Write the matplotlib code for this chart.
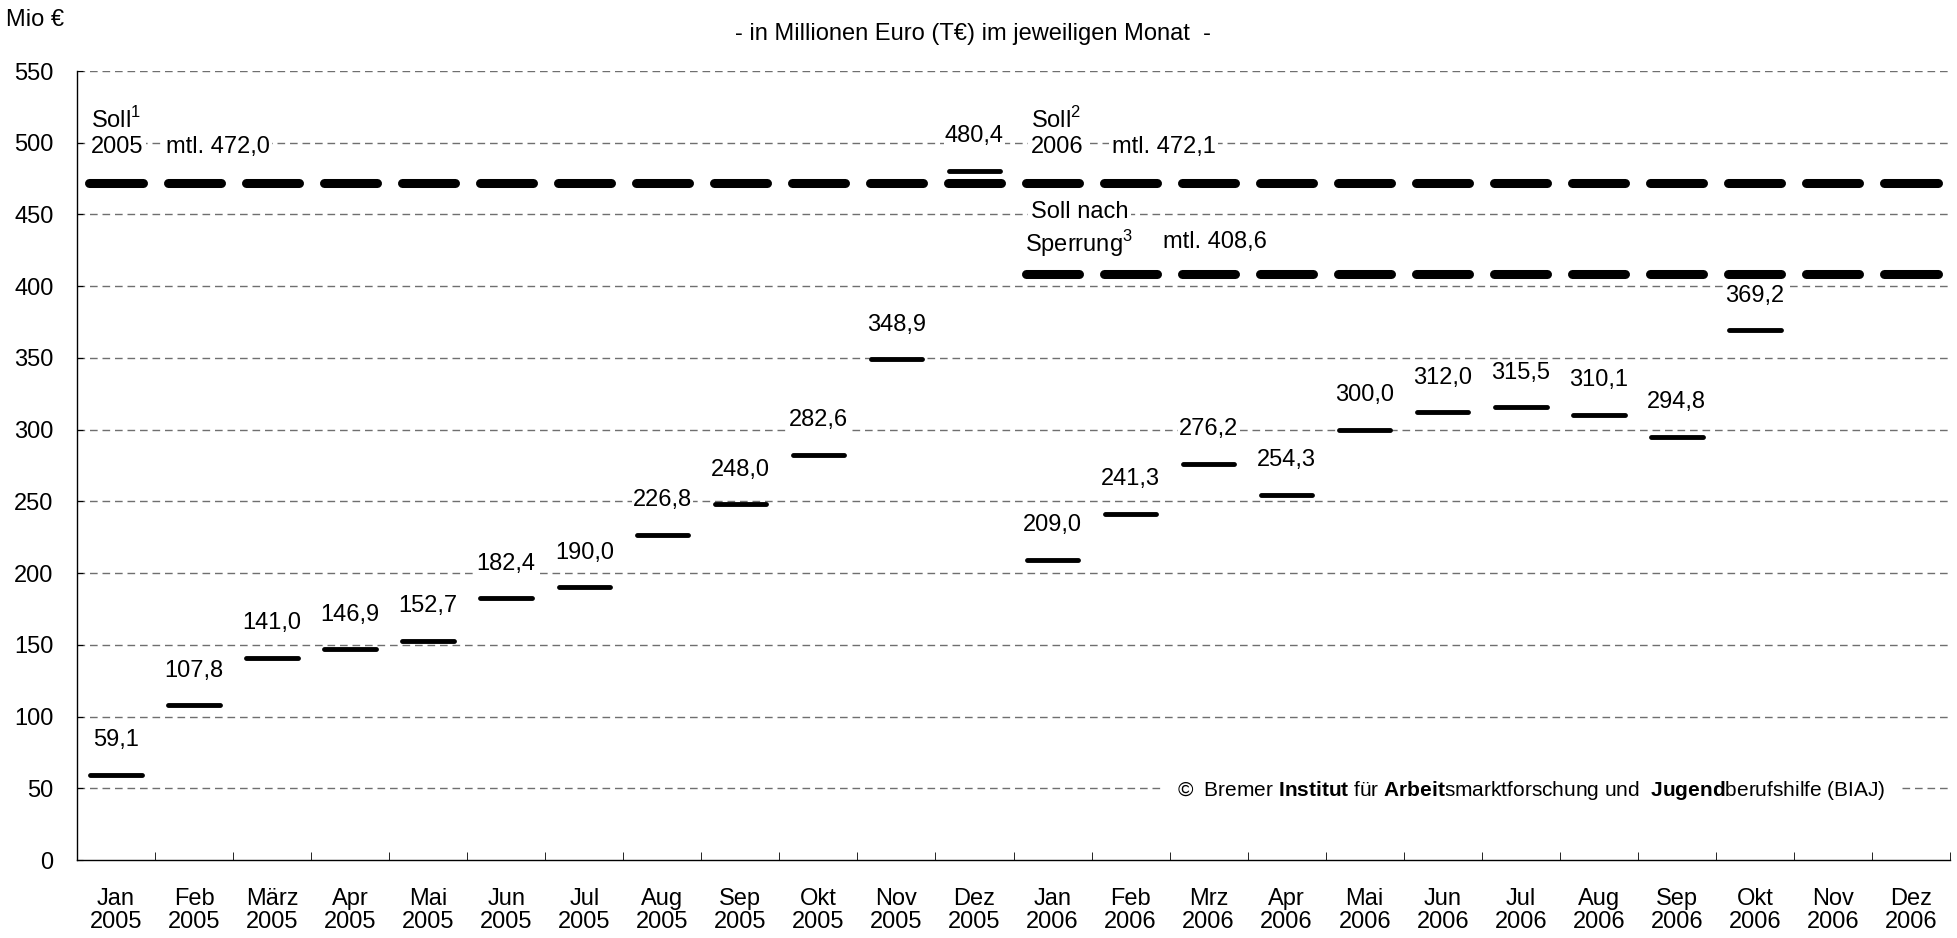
import numpy as np
import matplotlib
matplotlib.use("Agg")
import matplotlib.pyplot as plt

plt.rcParams['font.family'] = ['Liberation Sans', 'DejaVu Sans']
plt.rcParams['mathtext.fontset'] = 'custom'
plt.rcParams['mathtext.rm'] = 'Liberation Sans'
plt.rcParams['mathtext.bf'] = 'Liberation Sans:bold'

# data
months = ["Jan", "Feb", "März", "Apr", "Mai", "Jun", "Jul", "Aug", "Sep", "Okt", "Nov", "Dez",
          "Jan", "Feb", "Mrz", "Apr", "Mai", "Jun", "Jul", "Aug", "Sep", "Okt", "Nov", "Dez"]
years = ["2005"] * 12 + ["2006"] * 12
ist = [59.1, 107.8, 141.0, 146.9, 152.7, 182.4, 190.0, 226.8, 248.0, 282.6, 348.9, 480.4,
       209.0, 241.3, 276.2, 254.3, 300.0, 312.0, 315.5, 310.1, 294.8, 369.2, None, None]
soll_2005 = 472.0
soll_2006 = 472.1
soll_sperrung = 408.6

fs = 17

fig = plt.figure(figsize=(19.57, 9.38), dpi=100)
ax = fig.add_axes([77 / 1957, 78 / 938, 1873 / 1957, 789 / 938])

n = len(months)
x = np.arange(n)
ax.set_xlim(-0.5, n - 0.5)
ax.set_ylim(0, 550)

# grid
for yv in range(50, 551, 50):
    ax.axhline(yv, color="#6f6f6f", lw=1.0, dashes=(5.5, 3.5), zorder=1)

# Soll dashes
soll_sets = [(x[:12], soll_2005), (x[12:], soll_2006), (x[12:], soll_sperrung)]
for xs, val in soll_sets:
    lc = ax.hlines([val] * len(xs), xs - 0.34, xs + 0.34, color="black", lw=6.5, zorder=3)
    lc.set_capstyle("round")

# Ist markers + labels
xi = [i for i in range(n) if ist[i] is not None]
vi = [ist[i] for i in xi]
lc = ax.hlines(vi, np.array(xi) - 0.33, np.array(xi) + 0.33, color="black", lw=3.5, zorder=4)
lc.set_capstyle("round")
for i, v in zip(xi, vi):
    ax.annotate(f"{v:.1f}".replace(".", ","), (i, v), xytext=(0, 25), textcoords="offset points",
                ha="center", va="center", fontsize=fs, zorder=5,
                bbox=dict(boxstyle="square,pad=0.05", fc="white", ec="none"))

box = dict(boxstyle="square,pad=0.1", fc="white", ec="none")
ax.text(-0.32, 516, r"Soll$^1$", fontsize=fs, ha="left", va="center", zorder=5)
ax.text(-0.32, 497, "2005", fontsize=fs, ha="left", va="center", bbox=box, zorder=5)
ax.text(0.64, 497, "mtl. 472,0", fontsize=fs, ha="left", va="center", bbox=box, zorder=5)
ax.text(11.72, 516, r"Soll$^2$", fontsize=fs, ha="left", va="center", zorder=5)
ax.text(11.72, 497, "2006", fontsize=fs, ha="left", va="center", bbox=box, zorder=5)
ax.text(12.76, 497, "mtl. 472,1", fontsize=fs, ha="left", va="center", bbox=box, zorder=5)
ax.text(11.72, 452, "Soll nach", fontsize=fs, ha="left", va="center", bbox=box, zorder=5)
ax.text(11.65, 430, r"Sperrung$^3$", fontsize=fs, ha="left", va="center", zorder=5)
ax.text(13.42, 431, "mtl. 408,6", fontsize=fs, ha="left", va="center", zorder=5)
ax.text(13.6, 48.5,
        r"©  Bremer $\mathbf{Institut}$ für $\mathbf{Arbeit}$smarktforschung und  $\mathbf{Jugend}$berufshilfe (BIAJ)",
        fontsize=15, ha="left", va="center", zorder=5,
        bbox=dict(boxstyle="square,pad=0.6", fc="white", ec="none"))

# axes styling
for s in ["top", "right"]:
    ax.spines[s].set_visible(False)
ax.spines["left"].set_linewidth(1.0)
ax.spines["bottom"].set_linewidth(1.0)
ax.set_yticks(range(0, 551, 50))
ax.tick_params(axis="y", direction="in", length=4, pad=17, labelsize=fs)
ax.set_xticks(x)
ax.set_xticklabels([f"{m}\n{y}" for m, y in zip(months, years)], fontsize=fs, linespacing=1.05)
ax.tick_params(axis="x", which="major", length=0, pad=20)
ax.set_xticks(np.arange(0.5, n, 1.0), minor=True)
ax.tick_params(axis="x", which="minor", direction="in", length=6)

fig.text(6 / 1957, 1 - 20 / 938, "Mio €", fontsize=fs, ha="left", va="center")
fig.text(973 / 1957, 1 - 34 / 938, "- in Millionen Euro (T€) im jeweiligen Monat  -",
         fontsize=fs, ha="center", va="center")

fig.savefig("out.png", dpi=100)
